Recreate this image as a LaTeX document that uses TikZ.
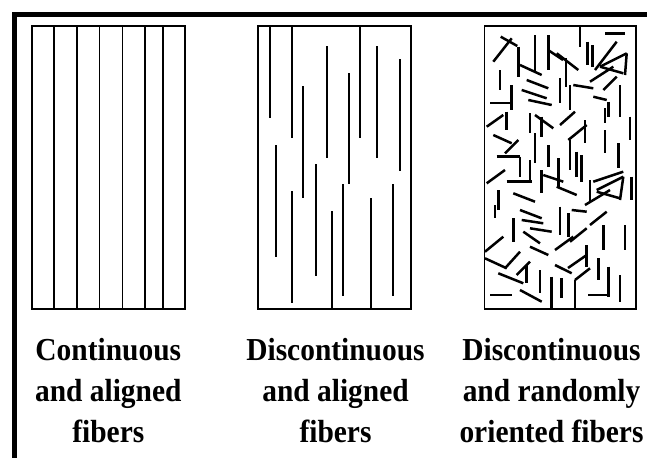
\documentclass[tikz,border=0pt]{standalone}
\usepackage{fontspec}
\newfontfamily\lblfont[FakeStretch=0.92]{Liberation Serif}
\begin{document}
\begin{tikzpicture}[x=1pt,y=-1pt,
  panel/.style={draw=black,line width=1.9pt},
  fiber/.style={draw=black,line width=2.2pt},
  rfiber/.style={draw=black,line width=2.5pt},
  frame/.style={draw=black,line width=4.6pt},
  lbl/.style={font=\lblfont\bfseries\fontsize{32}{41}\selectfont,anchor=base,inner sep=0pt}]
\useasboundingbox (0,0) rectangle (647,458);
\fill[white] (0,0) rectangle (647,458);
% frame
\draw[frame,line join=miter] (647,14.2) -- (14.3,14.2) -- (14.3,458);
% panel 1
\draw[panel] (31.8,26) rectangle (185,309);
\foreach \x in {54.3,77.3,99.5,122.5,145,163.3}
  \draw[panel] (\x,26) -- (\x,309);
% panel 2
\draw[panel] (258.3,26) rectangle (410.7,309);
\foreach \x/\a/\b in {270/26/118, 292.3/26/138, 360/26/138, 326.7/46/158, 377.3/46/158,
  400/59/171, 349.3/73/184, 303.3/86/198, 275.7/145/257, 315.7/164/276,
  292.3/191/303, 343.3/184/296, 393.3/184/296, 332.3/211/309, 371/198/309}
  \draw[fiber] (\x,\a) -- (\x,\b);
% panel 3
\draw[panel] (484.5,26) rectangle (636,309);
\foreach \xa/\ya/\xb/\yb in {
 493.3/61.7/511.7/38.3, 500.7/36.7/517.3/46, 518.3/46.7/518.3/76.7, 535/35/535/73.3,
 520/65/541.7/75, 548.3/35/548.3/70, 548/50/563/60, 556.7/53.3/578.3/70,
 566/58.3/566/86.7, 580/26/580/46.7, 587.3/41.7/587.3/65, 592.7/45/592.7/66.7,
 605/33.3/625/33.3, 595/70/616.7/41.7, 600/66.7/626.7/53.3, 626.7/53.3/625/75,
 600/66.7/623.3/73.3, 590/81.7/613.3/66.7, 620/85/620/116.7, 500/70/500/90,
 490/103/510/103, 511.7/85/511.7/110, 526.7/80/548.3/88.3, 521.7/90/546.7/98.3,
 528.3/100/551.7/105, 560/78.3/560/103.3, 570/85/570/110, 573.3/85/593.3/88.3,
 603.3/90/616.7/76.7, 608.3/101.7/608.3/116.7, 593.3/96.7/606.7/100,
 486.7/126.7/503.3/115, 493.3/135/511.7/143.3, 505/153.3/518.3/140, 496.7/156.7/520/156.7,
 520/156.7/520/176.7, 506.7/111.7/506.7/130, 530/113.3/530/133.3, 535/115/553.3/128.3,
 541.7/116.7/541.7/136.7, 560/125/575/111.7, 585/120/585/143.3, 568.3/140/586.7/125,
 570/140/570/170, 605/130/605/153.3, 605/108/605/123.3, 630/116.7/630/140,
 618.3/143.3/618.3/168.3, 535/133.3/535/163.3, 548.3/145/548.3/166.7, 530/160/530/181.7,
 558.3/158.3/558.3/186.7, 576.7/151.7/576.7/176.7, 581.7/155/581.7/181.7,
 486.7/183.3/505/170, 506.7/181.7/531.7/181.7, 541.7/170/541.7/193.3, 543.3/175/563.3/181.7,
 556.7/186.7/576.7/195, 593.3/181.7/623.3/171.7, 590/180/590/203.3,
 596.7/190/623.3/176.7, 623.3/176.7/620/200, 596.7/191.7/620/198.3, 585/205/610/190,
 498.3/190/498.3/210, 513.3/193.3/535/201.7, 631.7/176.7/631.7/200,
 495/205/495/218.3, 513.3/218.3/513.3/241.7, 520/210/541.7/218.3, 521.7/220/543.3/223.3,
 530/228.3/551.7/231.7, 560/206.7/560/235, 568.3/213.3/568.3/236.7, 571.7/210/586.7/211.7,
 590/225/606.7/211.7, 603.3/225/603.3/250, 625/225/625/250, 485/251.7/503.3/236.7,
 523.3/231.7/540/243.3, 530/246.7/548.3/255, 555/250/573.3/236.7, 570/241.7/586.7/228.3,
 568/268/586.7/255, 586.7/245/586.7/266.7,
 485/258.3/506.7/268.3, 498.3/273.3/523.3/283.3, 520/290/541.7/301.7, 505/268.3/520/251.7,
 516.7/275/530/261.7, 526.7/265/526.7/283.3, 540/270/540/293.3, 555/265/571.7/273.3,
 551.7/276.7/551.7/309, 561.7/278.3/561.7/298.3, 575/280/575/309, 575/280/590/268.3,
 598.3/258.3/598.3/280, 608.3/266.7/608.3/296.7, 588.3/295/608.3/295, 620/275/620/301.7,
 490/295/511.7/295}
  \draw[rfiber] (\xa,\ya) -- (\xb,\yb);
% labels
\node[lbl] (l1a) at (108.3,360.7) {Continuous};
\node[lbl] (l1b) at (108.3,401.7) {and aligned};
\node[lbl] (l1c) at (108.3,442.5) {fibers};
\node[lbl] (l2a) at (335.5,360.7) {Discontinuous};
\node[lbl] (l2b) at (335.5,401.7) {and aligned};
\node[lbl] (l2c) at (335.5,442.5) {fibers};
\node[lbl] (l3a) at (551.5,360.7) {Discontinuous};
\node[lbl] (l3b) at (551.5,401.7) {and randomly};
\node[lbl] (l3c) at (551.5,442.5) {oriented fibers};
\end{tikzpicture}
\end{document}
